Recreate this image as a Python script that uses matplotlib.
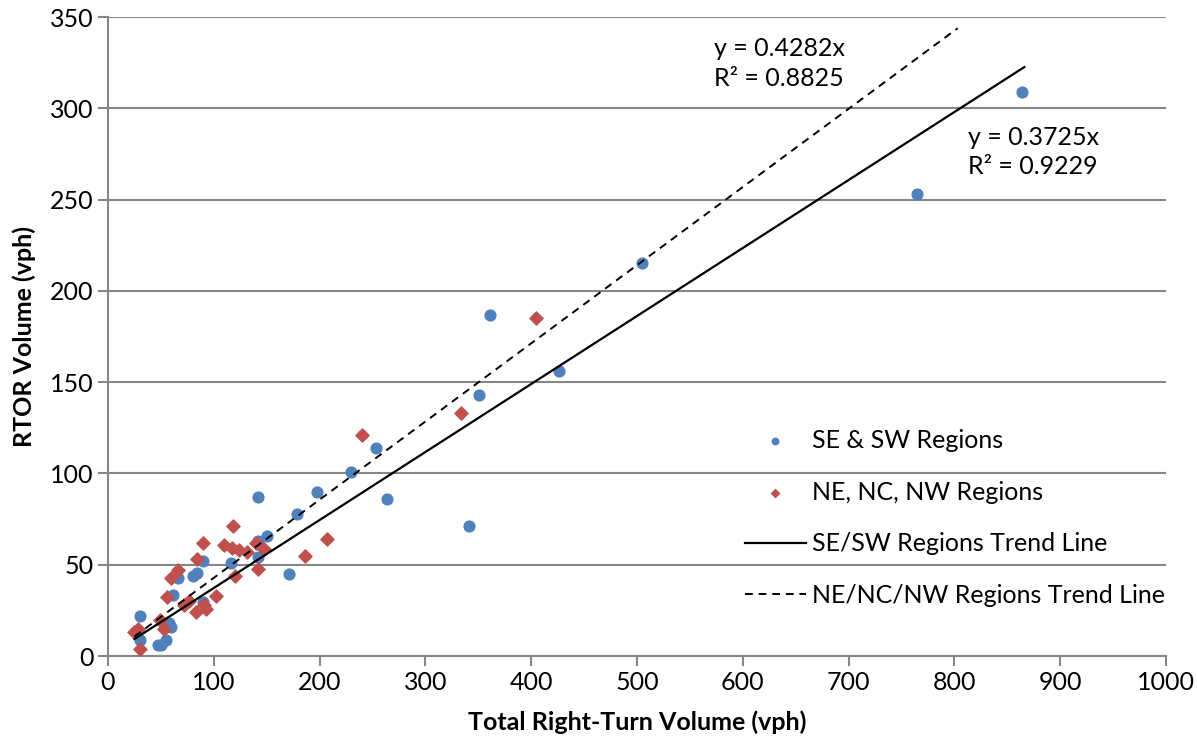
import numpy as np
import matplotlib.pyplot as plt

plt.rcParams['font.family'] = ['Lato', 'DejaVu Sans']

# SE & SW regions
se_x = [864, 765, 505, 361, 426, 351, 253, 230, 142, 198, 264, 179, 341, 150,
        141.5, 141.5, 116, 90, 171, 84, 80.6, 66.5, 61, 90, 30.5, 58, 60, 30,
        47, 50, 55]
se_y = [309, 253, 215, 187, 156, 143, 114, 101, 87, 90, 86, 78, 71, 66,
        63, 54.4, 51, 52, 45, 45.6, 44, 43, 33.4, 29.7, 22, 18, 16, 9,
        6, 6, 9]

# NE, NC, NW regions
ne_x = [404.5, 334, 240, 118, 207, 90, 110, 117, 124, 131, 140, 147, 186, 84,
        142, 120, 66, 60, 56, 102, 71.5, 77, 90.4, 83.5, 93, 49, 53, 25, 28, 30]
ne_y = [185, 133, 121, 71, 64, 62, 61, 59, 58, 57, 61.7, 58.4, 55, 53,
        47.5, 44, 47, 43, 32.5, 33, 28, 30, 28, 24, 25.6, 20, 15, 13, 14.6, 4]

# trend lines (y = m x)
se_slope, se_r2, se_range = 0.3725, 0.9229, (25, 866)
ne_slope, ne_r2, ne_range = 0.4282, 0.8825, (25, 803)

blue = "#4F81BD"
red = "#C0504D"
grey = "#868686"
fs = 18

fig = plt.figure(figsize=(11.97, 7.46), dpi=100)
ax = fig.add_axes([0.0902, 0.1206, 0.8840, 0.8566])

ax.scatter(se_x, se_y, s=60, color=blue, marker="o", zorder=3,
           label="SE & SW Regions")
ax.scatter(ne_x, ne_y, s=45, color=red, marker="D", zorder=3,
           label="NE, NC, NW Regions")

xs = np.array(se_range)
ax.plot(xs, se_slope * xs, color="black", lw=1.6, zorder=4,
        label="SE/SW Regions Trend Line")
xn = np.array(ne_range)
ax.plot(xn, ne_slope * xn, color="black", lw=1.4, ls=(0, (4, 3)), zorder=4,
        label="NE/NC/NW Regions Trend Line")

ax.text(573, 324.5, f"y = {ne_slope}x\nR² = {ne_r2}", fontsize=fs,
        va="center", ha="left", linespacing=1.35)
ax.text(813, 276, f"y = {se_slope}x\nR² = {se_r2}", fontsize=fs,
        va="center", ha="left", linespacing=1.35)

ax.set_xlim(0, 1000)
ax.set_ylim(0, 350)
ax.set_xticks(np.arange(0, 1001, 100))
ax.set_yticks(np.arange(0, 351, 50))
ax.yaxis.grid(True, color=grey, lw=1.5)
ax.set_axisbelow(True)
for s in ["top", "right"]:
    ax.spines[s].set_visible(False)
for s in ["left", "bottom"]:
    ax.spines[s].set_color(grey)
    ax.spines[s].set_linewidth(1.5)
ax.tick_params(colors=grey, labelcolor="black", labelsize=fs, length=7,
               width=1.5, direction="out")

ax.set_xlabel("Total Right-Turn Volume (vph)", fontsize=fs, fontweight="bold",
              labelpad=12)
ax.set_ylabel("RTOR Volume (vph)", fontsize=fs, fontweight="bold", labelpad=10)

ax.legend(loc="center left", bbox_to_anchor=(0.5805, 0.216), frameon=False,
          fontsize=fs, labelspacing=1.15, handlelength=2.45, markerscale=0.6,
          handletextpad=0.25)

fig.savefig("out.png", dpi=100)
